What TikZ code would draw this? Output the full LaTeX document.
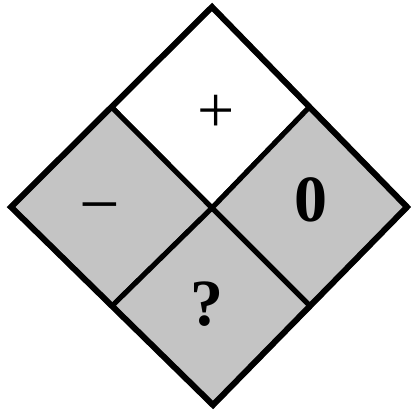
\documentclass[tikz,border=0pt]{standalone}
\usepackage{fontspec}
\setmainfont{Liberation Serif}
\usetikzlibrary{calc}
\begin{document}
\begin{tikzpicture}[x=1pt,y=-1pt,
  cell/.style={fill=cellgray,draw=black,line width=5pt,line join=round},
  outer/.style={draw=black,line width=6pt,line join=miter},
  lbl/.style={font=\fontsize{66}{68}\selectfont,inner sep=0pt}]
\definecolor{cellgray}{HTML}{C4C4C4}
\useasboundingbox (0,0) rectangle (411,412);
\coordinate (T) at (212,7);
\coordinate (L) at (11,207);
\coordinate (R) at (407,207);
\coordinate (B) at (213,405);
\coordinate (C) at (212,208);
\coordinate (TL) at ($(T)!0.5!(L)$);
\coordinate (TR) at ($(T)!0.5!(R)$);
\coordinate (BL) at ($(B)!0.5!(L)$);
\coordinate (BR) at ($(B)!0.5!(R)$);
\filldraw[cell,fill=white] (T) -- (TR) -- (C) -- (TL) -- cycle;
\filldraw[cell] (TL) -- (C) -- (BL) -- (L) -- cycle;
\filldraw[cell] (TR) -- (R) -- (BR) -- (C) -- cycle;
\filldraw[cell] (C) -- (BR) -- (B) -- (BL) -- cycle;
\draw[outer] (T) -- (R) -- (B) -- (L) -- cycle;
\node[lbl] (plus) at (216,114) {+};
\node[lbl,font=\fontsize{72}{74}\selectfont] (minus) at (100,216) {−};
\node[lbl,font=\fontsize{66}{68}\selectfont\bfseries] (zero) at (311,200) {0};
\node[lbl,font=\fontsize{66}{68}\selectfont\bfseries] (q) at (207,304) {?};
\end{tikzpicture}
\end{document}
